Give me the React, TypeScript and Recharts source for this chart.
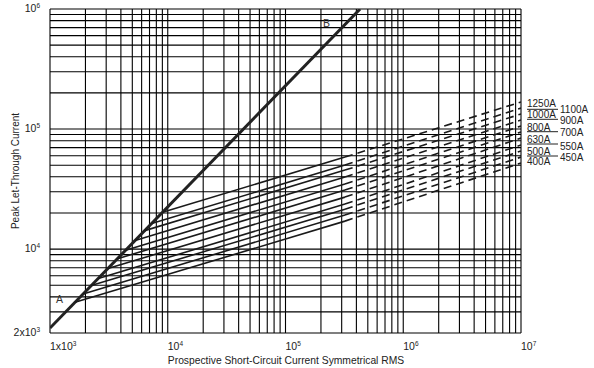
import React from 'react';
import { LineChart, Line, XAxis, YAxis, CartesianGrid } from 'recharts';

// Fuse ratings (A)
const ratings = [400, 450, 500, 550, 630, 700, 800, 900, 1000, 1100, 1250];
// Point where each let-through line leaves curve A-B (prospective current, peak current)
const startCurrent = [1630, 1910, 2240, 2570, 3100, 3740, 4390, 5280, 6370, 7300, 9040];
const startPeak = [3600, 4230, 4970, 5690, 6880, 8310, 9780, 11800, 14250, 16340, 20280];
// End of the solid (tested) part
const kneeCurrent = 320000;
const kneePeak = [17100, 19200, 21500, 23700, 27100, 31000, 34800, 39800, 45500, 50100, 58400];
// Extrapolated (dashed) end at 10^7
const endCurrent = 10000000;
const endPeak = [52100, 58400, 65600, 73600, 84100, 94400, 105900, 118900, 133400, 149600, 168000];

// Maximum peak current line A-B
const abCurrent = [1000, 430000];
const abPeak = [2200, 1000000];

const xTicks = [
  1000, 2000, 3000, 4000, 5000, 6000, 7000, 8000, 9000,
  10000, 20000, 30000, 40000, 50000, 60000, 70000, 80000, 90000,
  100000, 200000, 300000, 400000, 500000, 600000, 700000, 800000, 900000,
  1000000, 2000000, 3000000, 4000000, 5000000, 6000000, 7000000, 8000000, 9000000,
  10000000,
];
const yTicks = [
  2000, 3000, 4000, 5000, 6000, 7000, 8000, 9000,
  10000, 20000, 30000, 40000, 50000, 60000, 70000, 80000, 90000,
  100000, 200000, 300000, 400000, 500000, 600000, 700000, 800000, 900000,
  1000000,
];
const xTickLabels: Record<number, [string, string]> = {
  1000: ['1x10', '3'],
  10000: ['10', '4'],
  100000: ['10', '5'],
  1000000: ['10', '6'],
  10000000: ['10', '7'],
};
const yTickLabels: Record<number, [string, string]> = {
  2000: ['2x10', '3'],
  10000: ['10', '4'],
  100000: ['10', '5'],
  1000000: ['10', '6'],
};

const leftColLabels = ['1250A', '1000A', '800A', '630A', '500A', '400A'];
const rightColLabels = ['1100A', '900A', '700A', '550A', '450A'];

const FONT = 'Liberation Sans, Arial, Helvetica, sans-serif';

const XTick = (props: any) => {
  const { x, y, payload } = props;
  const lab = xTickLabels[payload.value];
  if (!lab) return null;
  return (
    <text x={x} y={y + 9} textAnchor="start" fontSize={10.5} fill="#222" fontFamily={FONT}>
      <tspan>{lab[0]}</tspan>
      <tspan dy={-4} fontSize={6.5}>{lab[1]}</tspan>
    </text>
  );
};

const YTick = (props: any) => {
  const { x, y, payload } = props;
  const lab = yTickLabels[payload.value];
  if (!lab) return null;
  return (
    <text x={x - 2} y={y + 3} textAnchor="end" fontSize={10.5} fill="#222" fontFamily={FONT}>
      <tspan>{lab[0]}</tspan>
      <tspan dy={-4} fontSize={6.5}>{lab[1]}</tspan>
    </text>
  );
};

export default function App() {
  const solid = ratings.map((r, i) => ({
    key: `s${r}`,
    data: [
      { x: startCurrent[i], y: startPeak[i] },
      { x: kneeCurrent, y: kneePeak[i] },
    ],
  }));
  const dashed = ratings.map((r, i) => ({
    key: `d${r}`,
    data: [
      { x: kneeCurrent, y: kneePeak[i] },
      { x: endCurrent, y: endPeak[i] },
    ],
  }));
  const ab = abCurrent.map((c, i) => ({ x: c, y: abPeak[i] }));

  const leftY = [103, 114, 127.5, 139.5, 151, 161.5];
  const rightY = [109.5, 120.5, 132.5, 146.5, 157.5];
  const leaderY = [109.3, 119.3, 131.7, 144, 156];

  return (
    <div style={{ position: 'absolute', left: 0, top: 0, width: 594, height: 368, background: '#fff' }}>
      <LineChart
        width={594}
        height={368}
        margin={{ top: 9, right: 73, bottom: 0, left: 0 }}
      >
        <CartesianGrid stroke="#000" strokeWidth={1.1} horizontal vertical />
        <XAxis
          dataKey="x"
          type="number"
          scale="log"
          domain={[1000, 10000000]}
          ticks={xTicks}
          interval={0}
          allowDataOverflow
          axisLine={false}
          tickLine={false}
          height={35}
          tick={<XTick />}
        />
        <YAxis
          dataKey="y"
          type="number"
          scale="log"
          domain={[2000, 1000000]}
          ticks={yTicks}
          interval={0}
          allowDataOverflow
          axisLine={false}
          tickLine={false}
          width={50}
          tick={<YTick />}
        />
        <Line
          data={ab}
          dataKey="y"
          type="linear"
          stroke="#222"
          strokeWidth={3}
          dot={false}
          isAnimationActive={false}
        />
        {solid.map((s) => (
          <Line
            key={s.key}
            data={s.data}
            dataKey="y"
            type="linear"
            stroke="#1a1a1a"
            strokeWidth={1.6}
            dot={false}
            isAnimationActive={false}
          />
        ))}
        {dashed.map((s) => (
          <Line
            key={s.key}
            data={s.data}
            dataKey="y"
            type="linear"
            stroke="#1a1a1a"
            strokeWidth={1.6}
            strokeDasharray="8 5"
            dot={false}
            isAnimationActive={false}
          />
        ))}
      </LineChart>
      <svg
        width={594}
        height={368}
        style={{ position: 'absolute', left: 0, top: 0, pointerEvents: 'none' }}
        fontFamily={FONT}
      >
        <text x={56} y={303} fontSize={10.5} fill="#333">A</text>
        <text x={323} y={26.5} fontSize={10.5} fill="#333">B</text>
        {leftColLabels.map((t, i) => (
          <text key={t} x={527} y={leftY[i] + 3.7} fontSize={10} fill="#222">{t}</text>
        ))}
        {rightColLabels.map((t, i) => (
          <text key={t} x={560} y={rightY[i] + 3.7} fontSize={10} fill="#222">{t}</text>
        ))}
        {leaderY.map((ly, i) => (
          <line key={i} x1={527} x2={558} y1={ly} y2={ly} stroke="#222" strokeWidth={1} />
        ))}
        <text x={286} y={364} textAnchor="middle" fontSize={10.3} fill="#222">
          Prospective Short-Circuit Current Symmetrical RMS
        </text>
        <text
          x={0}
          y={0}
          transform="translate(19,171) rotate(-90)"
          textAnchor="middle"
          fontSize={10}
          fill="#222"
        >
          Peak Let-Through Current
        </text>
      </svg>
    </div>
  );
}
